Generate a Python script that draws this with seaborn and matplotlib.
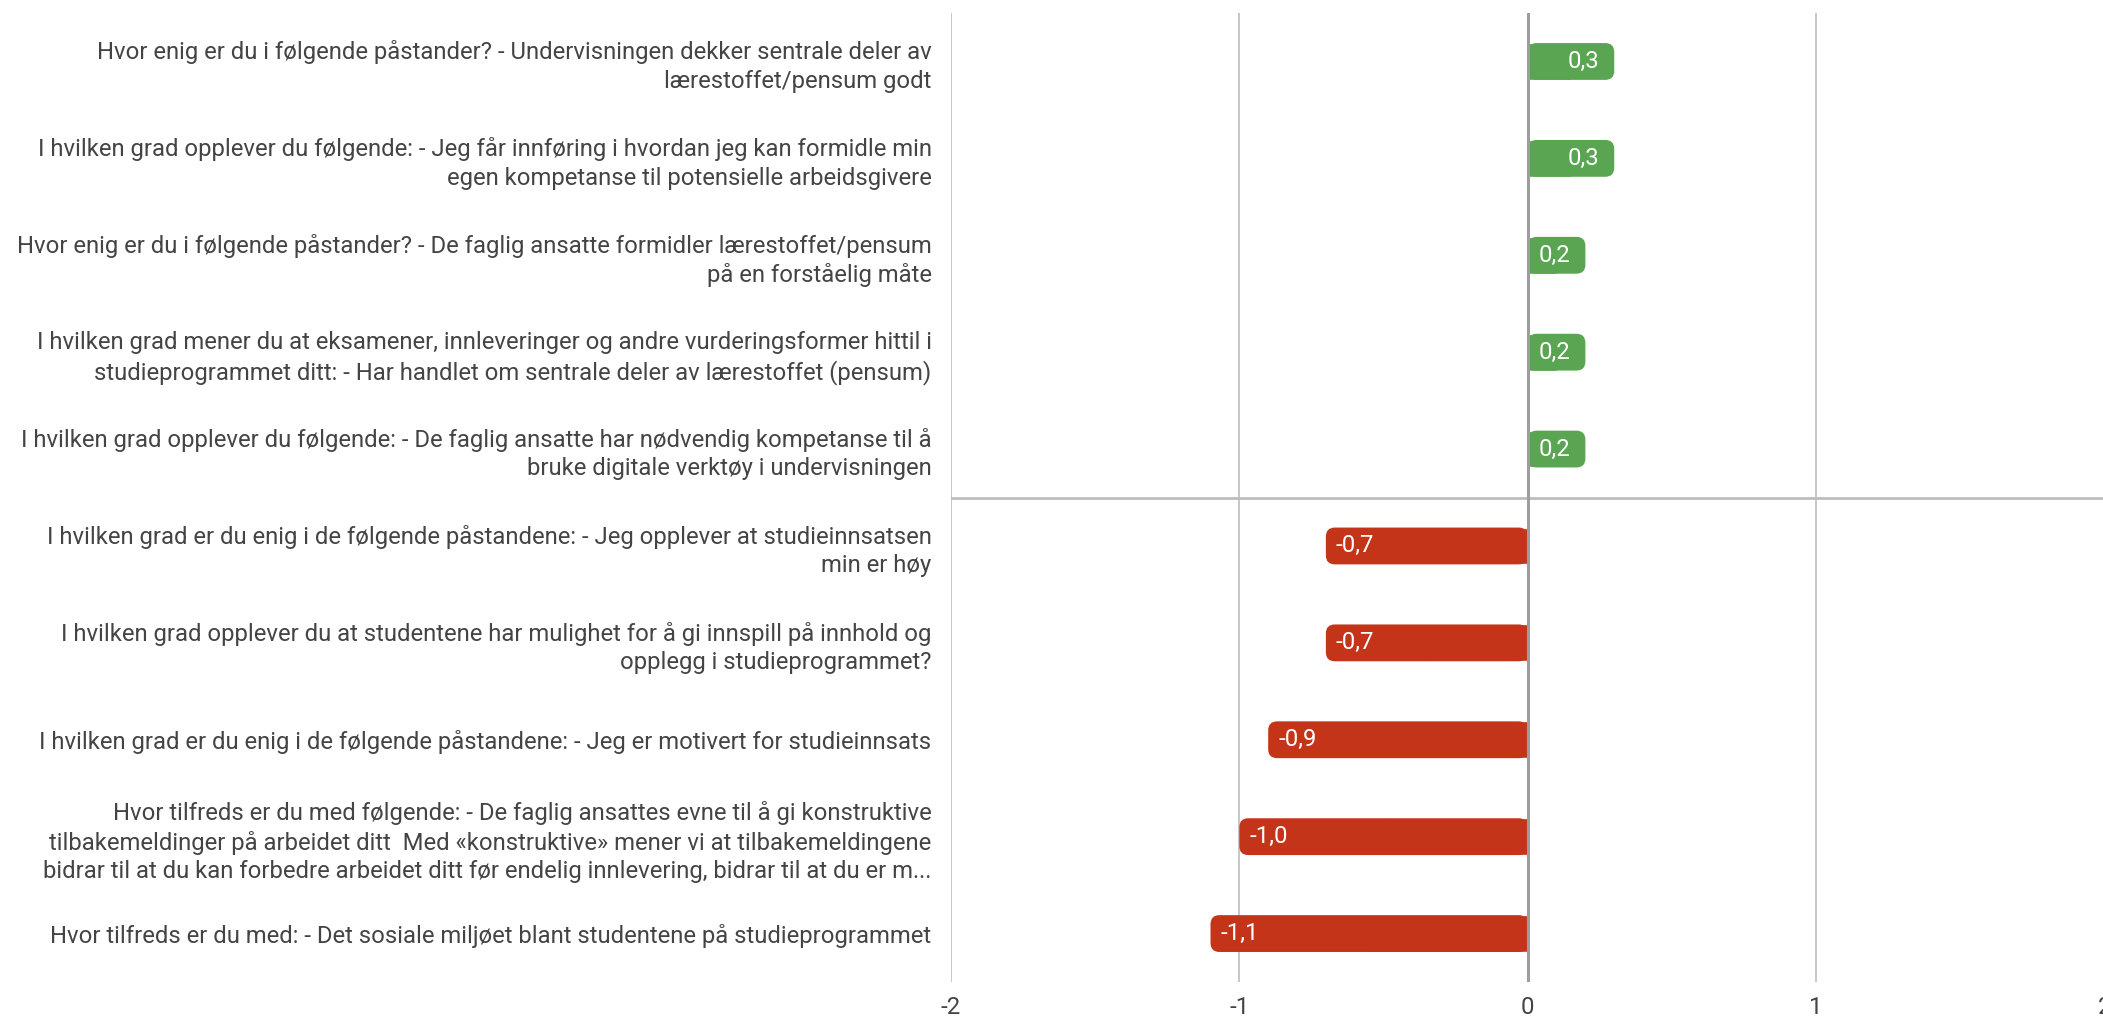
import pandas as pd
import numpy as np
import matplotlib.pyplot as plt
import seaborn as sns
from matplotlib.patches import FancyBboxPatch

# Survey statements (as shown, with the same line breaks)
questions = [
    'Hvor enig er du i følgende påstander? - Undervisningen dekker sentrale deler av\nlærestoffet/pensum godt',
    'I hvilken grad opplever du følgende: - Jeg får innføring i hvordan jeg kan formidle min\negen kompetanse til potensielle arbeidsgivere',
    'Hvor enig er du i følgende påstander? - De faglig ansatte formidler lærestoffet/pensum\npå en forståelig måte',
    'I hvilken grad mener du at eksamener, innleveringer og andre vurderingsformer hittil i\nstudieprogrammet ditt: - Har handlet om sentrale deler av lærestoffet (pensum)',
    'I hvilken grad opplever du følgende: - De faglig ansatte har nødvendig kompetanse til å\nbruke digitale verktøy i undervisningen',
    'I hvilken grad er du enig i de følgende påstandene: - Jeg opplever at studieinnsatsen\nmin er høy',
    'I hvilken grad opplever du at studentene har mulighet for å gi innspill på innhold og\nopplegg i studieprogrammet?',
    'I hvilken grad er du enig i de følgende påstandene: - Jeg er motivert for studieinnsats',
    'Hvor tilfreds er du med følgende: - De faglig ansattes evne til å gi konstruktive\ntilbakemeldinger på arbeidet ditt  Med «konstruktive» mener vi at tilbakemeldingene\nbidrar til at du kan forbedre arbeidet ditt før endelig innlevering, bidrar til at du er m...',
    'Hvor tilfreds er du med: - Det sosiale miljøet blant studentene på studieprogrammet',
]
scores = [0.3, 0.3, 0.2, 0.2, 0.2, -0.7, -0.7, -0.9, -1.0, -1.1]
x_ticks = [-2, -1, 0, 1, 2]

GREEN = '#5aa552'
RED = '#c43419'
TEXT = '#444444'
FS = 17.2

df = pd.DataFrame({'Question': questions, 'Score': scores})
df['Sign'] = np.where(df['Score'] >= 0, 'pos', 'neg')

sns.set_style('white')
plt.rcParams['font.family'] = ['Roboto', 'DejaVu Sans']
plt.rcParams['axes.unicode_minus'] = False

fig = plt.figure(figsize=(21.03, 10.17), dpi=100)
ax = fig.add_axes([0.4522, 0.0344, 0.5485, 0.9528])

sns.barplot(data=df, x='Score', y='Question', hue='Sign', orient='h',
            palette={'pos': GREEN, 'neg': RED}, dodge=False, legend=False,
            width=0.38, saturation=1, ax=ax)

ax.set_xlim(-2, 2)
ax.set_ylim(len(questions) - 0.5, -0.5)
ax.set_xticks(x_ticks)
ax.set_xticklabels([str(t) for t in x_ticks])
for s in ax.spines.values():
    s.set_visible(False)

# grid + zero line + separator between positive and negative groups
for t in x_ticks:
    ax.axvline(t, color='#bdbdbd', lw=1.2, zorder=0)
ax.axvline(0, color='#9e9e9e', lw=2.2, zorder=3)
n_pos = int((df['Score'] >= 0).sum())
ax.axhline(n_pos - 0.5, color='#bdbdbd', lw=2, zorder=0)

ax.set_xlabel('')
ax.set_ylabel('')
ax.tick_params(axis='both', length=0, labelcolor=TEXT, labelsize=FS)
ax.tick_params(axis='x', pad=10)
ax.tick_params(axis='y', pad=14)
for lbl in ax.get_yticklabels():
    lbl.set_multialignment('right')
    lbl.set_linespacing(1.3)

# round the outer end of each bar
fig.canvas.draw()
bb = ax.get_window_extent()
px_x = bb.width / 4.0
px_y = bb.height / len(questions)
r = 9 / px_x
for p, v in zip(list(ax.patches), df['Score']):
    x0, y0 = p.get_x(), p.get_y()
    w, h = p.get_width(), p.get_height()
    left = min(x0, x0 + w)
    rb = FancyBboxPatch((left, y0), abs(w), h,
                        boxstyle=f'round,pad=0,rounding_size={r}',
                        mutation_aspect=px_x / px_y,
                        facecolor=p.get_facecolor(), edgecolor='none', zorder=2)
    ax.add_patch(rb)
    p.set_width(w / 2)
    label = f'{v:.1f}'.replace('.', ',')
    yc = y0 + h / 2
    if v >= 0:
        ax.text(x0 + w - 15 / px_x, yc, label, ha='right', va='center',
                color='white', fontsize=FS, zorder=4)
    else:
        ax.text(x0 + w + 10 / px_x, yc, label, ha='left', va='center',
                color='white', fontsize=FS, zorder=4)

fig.savefig('out.png', dpi=100)
